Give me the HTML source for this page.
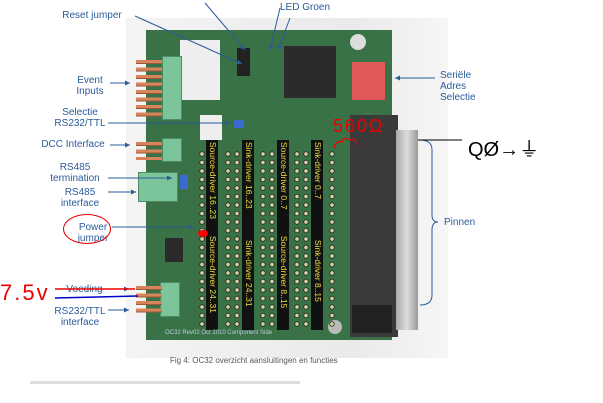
<!DOCTYPE html>
<html><head><style>
body{margin:0;width:603px;height:403px;background:#fff;position:relative;overflow:hidden;font-family:"Liberation Sans",sans-serif}
.a{position:absolute}
.l{position:absolute;color:#2a5b9a;font-size:10px;line-height:11px;text-align:center}
.strip{position:absolute;background:#111;width:12px}
.pins{position:absolute;width:8px;background:radial-gradient(circle at 4px 4px,#d9d0a0 1.5px,#222 2.2px,transparent 3px) 0 0/8px 8.5px}
.vt{position:absolute;color:#e8e040;font-size:8.5px;writing-mode:vertical-rl;white-space:nowrap}
.conn{position:absolute;background:#7cc49a;border:1px solid #4c8c66}
.cp{position:absolute;background:repeating-linear-gradient(#d8845a 0 3px,#9a5a3a 3px 4px,transparent 4px 7.5px)}
</style></head><body>
<div class="a" style="left:126px;top:18px;width:322px;height:340px;background:linear-gradient(90deg,#f4f4f4,#eaeaea 70%,#f6f6f6)"></div>
<div class="a" style="left:146px;top:30px;width:246px;height:310px;background:#3a7247"></div>
<div class="a" style="left:180px;top:40px;width:40px;height:60px;background:#eee"></div>
<div class="a" style="left:200px;top:115px;width:22px;height:25px;background:#eee"></div>
<div class="a" style="left:284px;top:46px;width:52px;height:52px;background:#2b2b2b"></div>
<div class="a" style="left:352px;top:62px;width:33px;height:38px;background:#e25a58"></div>
<div class="a" style="left:237px;top:48px;width:13px;height:28px;background:#222"></div>
<div class="a" style="left:234px;top:120px;width:10px;height:8px;background:#3a6ad0"></div>
<div class="a" style="left:180px;top:175px;width:8px;height:14px;background:#3a6ad0"></div>
<div class="a" style="left:165px;top:238px;width:18px;height:24px;background:#2a2a2a"></div>
<div class="a" style="left:350px;top:34px;width:16px;height:16px;border-radius:50%;background:#ddd"></div>
<div class="a" style="left:328px;top:320px;width:14px;height:14px;border-radius:50%;background:#bbb"></div>
<div class="a" style="left:350px;top:115px;width:48px;height:222px;background:#3a3a3a"></div>
<div class="a" style="left:396px;top:130px;width:22px;height:200px;background:linear-gradient(90deg,#aaa,#ddd,#999)"></div>
<div class="a" style="left:352px;top:305px;width:40px;height:28px;background:#222"></div>
<div class="strip" style="left:206px;top:140px;height:190px"></div>
<div class="strip" style="left:242px;top:140px;height:190px"></div>
<div class="strip" style="left:277px;top:140px;height:190px"></div>
<div class="strip" style="left:311px;top:140px;height:190px"></div>
<div class="pins" style="left:198px;top:150px;height:180px"></div>
<div class="pins" style="left:224px;top:150px;height:180px"></div>
<div class="pins" style="left:233px;top:150px;height:180px"></div>
<div class="pins" style="left:259px;top:150px;height:180px"></div>
<div class="pins" style="left:268px;top:150px;height:180px"></div>
<div class="pins" style="left:293px;top:150px;height:180px"></div>
<div class="pins" style="left:302px;top:150px;height:180px"></div>
<div class="pins" style="left:328px;top:150px;height:180px"></div>
<div class="vt" style="left:208px;top:142px">Source-driver 16..23</div>
<div class="vt" style="left:244px;top:142px">Sink-driver 16..23</div>
<div class="vt" style="left:279px;top:142px">Source-driver 0..7</div>
<div class="vt" style="left:313px;top:142px">Sink-driver 0..7</div>
<div class="vt" style="left:208px;top:236px">Source-driver 24..31</div>
<div class="vt" style="left:244px;top:240px">Sink-driver 24..31</div>
<div class="vt" style="left:279px;top:236px">Source-driver 8..15</div>
<div class="vt" style="left:313px;top:240px">Sink-driver 8..15</div>
<div class="a" style="left:198px;top:230px;width:10px;height:7px;border-radius:50%;background:#f00"></div>
<div class="a" style="left:165px;top:330px;font-size:6px;color:#bcd">OC32 Rev02 Oct 2010 Component Side</div>
<div class="conn" style="left:162px;top:56px;width:18px;height:62px"></div>
<div class="cp" style="left:136px;top:60px;width:26px;height:60px"></div>
<div class="conn" style="left:162px;top:138px;width:18px;height:22px"></div>
<div class="cp" style="left:136px;top:142px;width:26px;height:18px"></div>
<div class="conn" style="left:138px;top:172px;width:38px;height:28px"></div>
<div class="conn" style="left:160px;top:282px;width:18px;height:33px"></div>
<div class="cp" style="left:136px;top:286px;width:26px;height:30px"></div>
<div class="l" style="left:52px;top:10px;width:80px">Reset jumper</div>
<div class="l" style="left:280px;top:2px">LED Groen</div>
<div class="l" style="left:60px;top:75px;width:60px">Event<br>Inputs</div>
<div class="l" style="left:50px;top:107px;width:60px">Selectie<br>RS232/TTL</div>
<div class="l" style="left:38px;top:139px;width:70px">DCC Interface</div>
<div class="l" style="left:45px;top:162px;width:60px">RS485<br>termination</div>
<div class="l" style="left:55px;top:187px;width:50px">RS485<br>interface</div>
<div class="l" style="left:68px;top:222px;width:50px">Power<br>jumper</div>
<div class="a" style="left:63px;top:214px;width:46px;height:28px;border:1.5px solid #e00;border-radius:50%"></div>
<div class="l" style="left:62px;top:284px;width:45px">Voeding</div>
<div class="l" style="left:50px;top:306px;width:60px">RS232/TTL<br>interface</div>
<div class="l" style="left:440px;top:70px;text-align:left">Seriële<br>Adres<br>Selectie</div>
<div class="l" style="left:444px;top:217px">Pinnen</div>
<div class="a" style="left:170px;top:356px;font-size:8px;color:#555">Fig 4: OC32 overzicht aansluitingen en functies</div>
<div class="a" style="left:30px;top:381px;width:270px;height:3px;background:#ddd"></div>
<div class="a" style="left:0;top:280px;font-size:22px;color:#e00;letter-spacing:2px">7.5v</div>
<div class="a" style="left:333px;top:116px;font-size:18px;color:#e00;letter-spacing:2px">560Ω</div>
<div class="a" style="left:468px;top:133px;font-size:20px;color:#000">QØ→⏚</div>
<svg class="a" style="left:0;top:0" width="603" height="403">
<defs><marker id="m" viewBox="0 0 6 6" refX="6" refY="3" markerWidth="5" markerHeight="5" orient="auto"><path d="M0 0L6 3L0 6z" fill="#2a5b9a"/></marker></defs>
<g stroke="#2a5b9a" stroke-width="1" marker-end="url(#m)">
<line x1="135" y1="16" x2="242" y2="64"/><line x1="205" y1="3" x2="245" y2="50"/>
<line x1="280" y1="8" x2="270" y2="50"/><line x1="290" y1="18" x2="278" y2="50"/>
<line x1="110" y1="83" x2="130" y2="83"/><line x1="108" y1="123" x2="230" y2="123"/>
<line x1="110" y1="145" x2="130" y2="145"/><line x1="108" y1="178" x2="172" y2="178"/>
<line x1="108" y1="192" x2="136" y2="192"/><line x1="112" y1="227" x2="194" y2="227"/>
<line x1="110" y1="289" x2="129" y2="289"/><line x1="108" y1="310" x2="129" y2="310"/>
<line x1="435" y1="78" x2="395" y2="78"/>
</g>
<path d="M420 140 Q432 140 432 150 L432 215 Q432 222 438 222 Q432 222 432 230 L432 295 Q432 305 420 305" stroke="#2a5b9a" fill="none"/>
<line x1="418" y1="140" x2="462" y2="140" stroke="#000"/>
<line x1="55" y1="289" x2="135" y2="289" stroke="#e00" stroke-width="1.5"/>
<line x1="55" y1="298" x2="138" y2="296" stroke="#00c" stroke-width="1.5"/>
<path d="M334 148 q2-8 8-6 q2-6 8-2 q6-3 6 5" stroke="#e00" fill="none" stroke-width="1.3"/>
</svg>
</body></html>
